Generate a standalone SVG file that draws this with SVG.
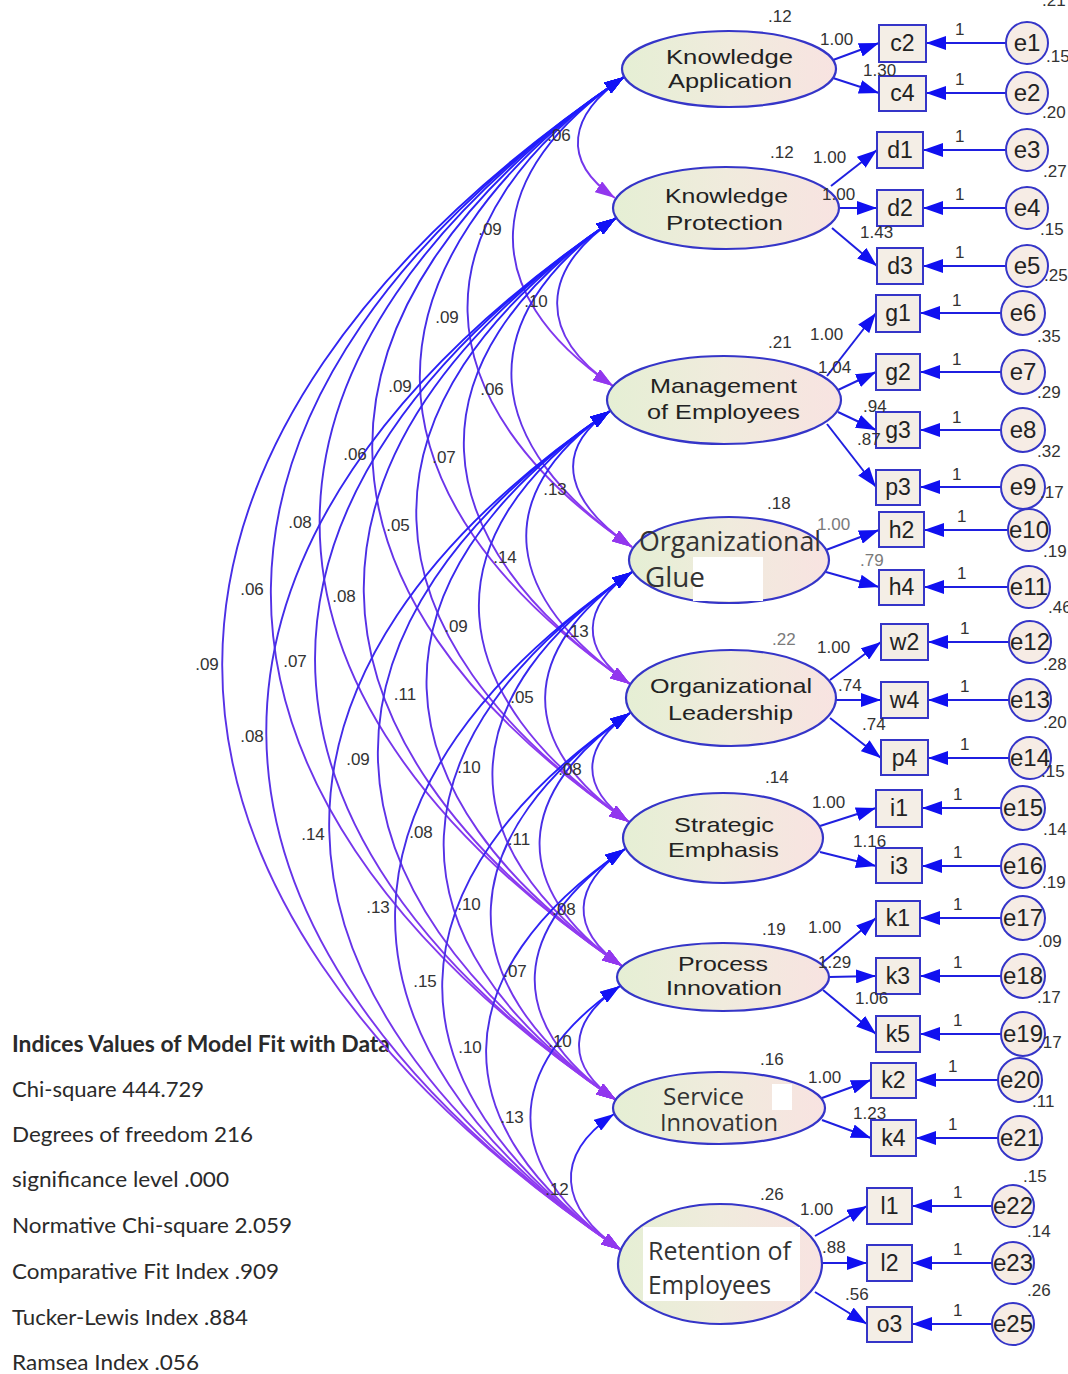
<svg xmlns="http://www.w3.org/2000/svg" width="1068" height="1374" viewBox="0 0 1068 1374">
<defs>
  <linearGradient id="latFill" x1="0" y1="0" x2="1" y2="0">
    <stop offset="0" stop-color="#e5efd4"/>
    <stop offset="0.5" stop-color="#f0ebdd"/>
    <stop offset="1" stop-color="#f8e3e1"/>
  </linearGradient>
  <linearGradient id="covStroke" x1="0" y1="0" x2="0" y2="1">
    <stop offset="0" stop-color="#1a1aff"/>
    <stop offset="0.45" stop-color="#4a2fe4"/>
    <stop offset="1" stop-color="#9a3cf2"/>
  </linearGradient>
  <marker id="headBlue" viewBox="0 0 20 13" refX="20" refY="6.5" markerWidth="20" markerHeight="13" markerUnits="userSpaceOnUse" orient="auto-start-reverse">
    <path d="M0,0 L20,6.5 L0,13 Z" fill="#1212f5"/>
  </marker>
  <marker id="headPurple" viewBox="0 0 20 13" refX="20" refY="6.5" markerWidth="20" markerHeight="13" markerUnits="userSpaceOnUse" orient="auto">
    <path d="M0,0 L20,6.5 L0,13 Z" fill="#9237ee"/>
  </marker>
  <marker id="head" viewBox="0 0 20 14" refX="20" refY="7" markerWidth="20" markerHeight="14" markerUnits="userSpaceOnUse" orient="auto">
    <path d="M0,0 L20,7 L0,14 Z" fill="#1010f0"/>
  </marker>
</defs>
<style>
  .lat { fill: url(#latFill); stroke: #3535c8; stroke-width: 2.2; }
  .obs { fill: #f4eee6; stroke: #3535c8; stroke-width: 2; }
  .err { fill: #f6ece5; stroke: #3535c8; stroke-width: 2; }
  .cov { fill: none; stroke: url(#covStroke); stroke-width: 1.9; marker-start: url(#headBlue); marker-end: url(#headPurple); }
  .path { fill: none; stroke: #1f1fe0; stroke-width: 2; marker-end: url(#head); }
  .lt { font-family: "Liberation Sans", Arial, sans-serif; font-size: 21px; fill: #222; }
  .lt2 { font-family: "Open Sans", "Liberation Sans", sans-serif; fill: #333; }
  .vt { font-family: "Liberation Sans", Arial, sans-serif; font-size: 23px; fill: #222; text-anchor: middle; }
  .et { font-family: "Liberation Sans", Arial, sans-serif; font-size: 24px; fill: #222; text-anchor: middle; }
  .num { font-family: "Liberation Sans", Arial, sans-serif; font-size: 17px; fill: #333; }
  .cn { font-family: "Liberation Sans", Arial, sans-serif; font-size: 17px; fill: #333; text-anchor: middle; }
  .faint { fill: #7a7a7a; }
  .fit { font-family: Lato, "Open Sans", sans-serif; font-size: 22px; fill: #2a2a2a; }
</style>
<rect width="1068" height="1374" fill="#ffffff"/>

<!-- fit statistics block -->
<g id="fit-indices">
  <text class="fit" x="12" y="1052" font-weight="bold" textLength="378" lengthAdjust="spacingAndGlyphs">Indices Values of Model Fit with Data</text>
  <text class="fit" x="12" y="1097" textLength="192" lengthAdjust="spacingAndGlyphs">Chi-square 444.729</text>
  <text class="fit" x="12" y="1142" textLength="241" lengthAdjust="spacingAndGlyphs">Degrees of freedom 216</text>
  <text class="fit" x="12" y="1187" textLength="217" lengthAdjust="spacingAndGlyphs">significance level .000</text>
  <text class="fit" x="12" y="1233" textLength="280" lengthAdjust="spacingAndGlyphs">Normative Chi-square 2.059</text>
  <text class="fit" x="12" y="1279" textLength="267" lengthAdjust="spacingAndGlyphs">Comparative Fit Index .909</text>
  <text class="fit" x="12" y="1325" textLength="236" lengthAdjust="spacingAndGlyphs">Tucker-Lewis Index .884</text>
  <text class="fit" x="12" y="1370" textLength="187" lengthAdjust="spacingAndGlyphs">Ramsea Index .056</text>
</g>

<g id="connectors">
  <!-- covariances between latent factors -->
  <path class="cov" d="M624,77 C568.9,114.5 559.9,160.5 615,198"/>
  <path class="cov" d="M624,77 C483.4,172.8 472.4,290.2 613,386"/>
  <path class="cov" d="M624,77 C410.1,222.7 418.1,401.3 632,547"/>
  <path class="cov" d="M624,77 C347.8,265.2 353.8,495.8 630,684"/>
  <path class="cov" d="M624,77 C285,308 290,591 629,822"/>
  <path class="cov" d="M624,77 C219.5,352.6 217.5,690.4 622,966"/>
  <path class="cov" d="M624,77 C158.5,394.1 150.5,782.9 616,1100"/>
  <path class="cov" d="M624,77 C90.3,440.6 87.3,886.4 621,1250"/>

  <path class="cov" d="M616,218 C539.6,270.1 536.6,333.9 613,386"/>
  <path class="cov" d="M616,218 C466.3,320 482.3,445 632,547"/>
  <path class="cov" d="M616,218 C404,362.5 418,539.5 630,684"/>
  <path class="cov" d="M616,218 C341.2,405.2 354.2,634.8 629,822"/>
  <path class="cov" d="M616,218 C275.7,449.9 281.7,734.1 622,966"/>
  <path class="cov" d="M616,218 C214.7,491.4 214.7,826.6 616,1100"/>
  <path class="cov" d="M616,218 C146.4,537.9 151.4,930.1 621,1250"/>

  <path class="cov" d="M610,411 C548.1,453.2 570.1,504.8 632,547"/>
  <path class="cov" d="M610,411 C485.8,495.6 505.8,599.4 630,684"/>
  <path class="cov" d="M610,411 C423,538.4 442,694.6 629,822"/>
  <path class="cov" d="M610,411 C357.5,583 369.5,794 622,966"/>
  <path class="cov" d="M610,411 C296.5,624.6 302.5,886.4 616,1100"/>
  <path class="cov" d="M610,411 C228.3,671.1 239.3,989.9 621,1250"/>

  <path class="cov" d="M632,572 C581,606.7 579,649.3 630,684"/>
  <path class="cov" d="M632,572 C518.2,649.5 515.2,744.5 629,822"/>
  <path class="cov" d="M632,572 C452.7,694.1 442.7,843.9 622,966"/>
  <path class="cov" d="M632,572 C391.8,735.7 375.8,936.3 616,1100"/>
  <path class="cov" d="M632,572 C323.5,782.2 312.5,1039.8 621,1250"/>

  <path class="cov" d="M630,713 C580.4,746.8 579.4,788.2 629,822"/>
  <path class="cov" d="M630,713 C514.9,791.4 506.9,887.6 622,966"/>
  <path class="cov" d="M630,713 C453.9,833 439.9,980 616,1100"/>
  <path class="cov" d="M630,713 C385.7,879.5 376.7,1083.5 621,1250"/>

  <path class="cov" d="M625,849 C571.8,885.3 568.8,929.7 622,966"/>
  <path class="cov" d="M625,849 C510.8,926.8 501.8,1022.2 616,1100"/>
  <path class="cov" d="M625,849 C442.5,973.3 438.5,1125.7 621,1250"/>

  <path class="cov" d="M620,986 C568.1,1021.3 564.1,1064.7 616,1100"/>
  <path class="cov" d="M620,986 C499.9,1067.8 500.9,1168.2 621,1250"/>

  <path class="cov" d="M614,1114 C552.1,1156.2 559.1,1207.8 621,1250"/>

  <!-- factor loadings -->
  <line class="path" x1="833" y1="60" x2="879" y2="43"/>
  <line class="path" x1="833" y1="78" x2="879" y2="93"/>
  <line class="path" x1="831" y1="186" x2="877" y2="150"/>
  <line class="path" x1="839" y1="208" x2="877" y2="208"/>
  <line class="path" x1="832" y1="228" x2="877" y2="266"/>
  <line class="path" x1="827" y1="376" x2="876" y2="313"/>
  <line class="path" x1="838" y1="390" x2="876" y2="372"/>
  <line class="path" x1="838" y1="412" x2="876" y2="430"/>
  <line class="path" x1="827" y1="424" x2="876" y2="487"/>
  <line class="path" x1="826" y1="550" x2="879" y2="530"/>
  <line class="path" x1="826" y1="572" x2="879" y2="587"/>
  <line class="path" x1="830" y1="680" x2="881" y2="642"/>
  <line class="path" x1="836" y1="700" x2="881" y2="700"/>
  <line class="path" x1="830" y1="718" x2="881" y2="758"/>
  <line class="path" x1="820" y1="826" x2="876" y2="808"/>
  <line class="path" x1="820" y1="852" x2="876" y2="866"/>
  <line class="path" x1="822" y1="963" x2="876" y2="918"/>
  <line class="path" x1="829" y1="977" x2="876" y2="976"/>
  <line class="path" x1="823" y1="990" x2="876" y2="1034"/>
  <line class="path" x1="822" y1="1098" x2="871" y2="1080"/>
  <line class="path" x1="822" y1="1120" x2="871" y2="1138"/>
  <line class="path" x1="815" y1="1236" x2="867" y2="1206"/>
  <line class="path" x1="822" y1="1263" x2="867" y2="1263"/>
  <line class="path" x1="815" y1="1292" x2="867" y2="1324"/>

  <!-- error terms to indicators -->
  <line class="path" x1="1006" y1="43" x2="926" y2="43"/>
  <line class="path" x1="1006" y1="93" x2="926" y2="93"/>
  <line class="path" x1="1006" y1="150" x2="923" y2="150"/>
  <line class="path" x1="1006" y1="208" x2="923" y2="208"/>
  <line class="path" x1="1006" y1="266" x2="923" y2="266"/>
  <line class="path" x1="1001" y1="313" x2="920" y2="313"/>
  <line class="path" x1="1001" y1="372" x2="920" y2="372"/>
  <line class="path" x1="1001" y1="430" x2="920" y2="430"/>
  <line class="path" x1="1001" y1="487" x2="920" y2="487"/>
  <line class="path" x1="1008" y1="530" x2="924" y2="530"/>
  <line class="path" x1="1008" y1="587" x2="924" y2="587"/>
  <line class="path" x1="1009" y1="642" x2="928" y2="642"/>
  <line class="path" x1="1009" y1="700" x2="928" y2="700"/>
  <line class="path" x1="1009" y1="758" x2="928" y2="758"/>
  <line class="path" x1="1001" y1="808" x2="922" y2="808"/>
  <line class="path" x1="1001" y1="866" x2="922" y2="866"/>
  <line class="path" x1="1001" y1="918" x2="920" y2="918"/>
  <line class="path" x1="1001" y1="976" x2="920" y2="976"/>
  <line class="path" x1="1001" y1="1034" x2="920" y2="1034"/>
  <line class="path" x1="998" y1="1080" x2="916" y2="1080"/>
  <line class="path" x1="998" y1="1138" x2="916" y2="1138"/>
  <line class="path" x1="992" y1="1206" x2="912" y2="1206"/>
  <line class="path" x1="992" y1="1263" x2="912" y2="1263"/>
  <line class="path" x1="992" y1="1324" x2="912" y2="1324"/>
</g>

<!-- latent factors -->
<g id="knowledge-application">
  <ellipse class="lat" cx="729" cy="69" rx="107" ry="38"/>
  <text class="lt" x="666" y="64" textLength="127" lengthAdjust="spacingAndGlyphs">Knowledge</text>
  <text class="lt" x="668" y="88" textLength="124" lengthAdjust="spacingAndGlyphs">Application</text>
</g>
<g id="knowledge-protection">
  <ellipse class="lat" cx="726" cy="208" rx="113" ry="41"/>
  <text class="lt" x="665" y="203" textLength="123" lengthAdjust="spacingAndGlyphs">Knowledge</text>
  <text class="lt" x="666" y="230" textLength="117" lengthAdjust="spacingAndGlyphs">Protection</text>
</g>
<g id="management-of-employees">
  <ellipse class="lat" cx="724" cy="400" rx="117" ry="44"/>
  <text class="lt" x="650" y="393" textLength="147" lengthAdjust="spacingAndGlyphs">Management</text>
  <text class="lt" x="647" y="419" textLength="153" lengthAdjust="spacingAndGlyphs">of Employees</text>
</g>
<g id="organizational-glue">
  <ellipse class="lat" cx="729" cy="560" rx="100" ry="43"/>
  <rect x="693" y="557" width="70" height="44" fill="#ffffff"/>
  <text class="lt2" x="639" y="551" font-size="28" fill="#555" textLength="182" lengthAdjust="spacingAndGlyphs">Organizational</text>
  <text class="lt2" x="645" y="587" font-size="28" fill="#555" textLength="60" lengthAdjust="spacingAndGlyphs">Glue</text>
</g>
<g id="organizational-leadership">
  <ellipse class="lat" cx="731" cy="698" rx="105" ry="48"/>
  <text class="lt" x="650" y="693" textLength="162" lengthAdjust="spacingAndGlyphs">Organizational</text>
  <text class="lt" x="668" y="720" textLength="125" lengthAdjust="spacingAndGlyphs">Leadership</text>
</g>
<g id="strategic-emphasis">
  <ellipse class="lat" cx="723" cy="838" rx="100" ry="45"/>
  <text class="lt" x="674" y="832" textLength="100" lengthAdjust="spacingAndGlyphs">Strategic</text>
  <text class="lt" x="668" y="857" textLength="111" lengthAdjust="spacingAndGlyphs">Emphasis</text>
</g>
<g id="process-innovation">
  <ellipse class="lat" cx="723" cy="977" rx="106" ry="34"/>
  <text class="lt" x="678" y="971" textLength="90" lengthAdjust="spacingAndGlyphs">Process</text>
  <text class="lt" x="666" y="995" textLength="116" lengthAdjust="spacingAndGlyphs">Innovation</text>
</g>
<g id="service-innovation">
  <ellipse class="lat" cx="719" cy="1108" rx="106" ry="36"/>
  <rect x="772" y="1084" width="20" height="26" fill="#ffffff"/>
  <text class="lt2" x="663" y="1105" font-size="24" textLength="81" lengthAdjust="spacingAndGlyphs">Service</text>
  <text class="lt2" x="660" y="1131" font-size="24" textLength="118" lengthAdjust="spacingAndGlyphs">Innovation</text>
</g>
<g id="retention-of-employees">
  <ellipse class="lat" cx="720" cy="1264" rx="102" ry="60"/>
  <rect x="643" y="1227" width="157" height="74" fill="#ffffff"/>
  <text class="lt2" x="648" y="1260" font-size="25" textLength="143" lengthAdjust="spacingAndGlyphs">Retention of</text>
  <text class="lt2" x="648" y="1294" font-size="25" textLength="123" lengthAdjust="spacingAndGlyphs">Employees</text>
</g>

<!-- observed indicators -->
<g id="c2"><rect class="obs" x="879" y="25" width="47" height="37"/><text class="vt" x="902.5" y="51">c2</text></g>
<g id="c4"><rect class="obs" x="879" y="76" width="47" height="35"/><text class="vt" x="902.5" y="101">c4</text></g>
<g id="d1"><rect class="obs" x="877" y="132" width="46" height="36"/><text class="vt" x="900" y="158">d1</text></g>
<g id="d2"><rect class="obs" x="877" y="190" width="46" height="36"/><text class="vt" x="900" y="216">d2</text></g>
<g id="d3"><rect class="obs" x="877" y="248" width="46" height="36"/><text class="vt" x="900" y="274">d3</text></g>
<g id="g1"><rect class="obs" x="876" y="295" width="44" height="37"/><text class="vt" x="898" y="321">g1</text></g>
<g id="g2"><rect class="obs" x="876" y="354" width="44" height="36"/><text class="vt" x="898" y="380">g2</text></g>
<g id="g3"><rect class="obs" x="876" y="412" width="44" height="36"/><text class="vt" x="898" y="438">g3</text></g>
<g id="p3"><rect class="obs" x="876" y="470" width="44" height="35"/><text class="vt" x="898" y="495">p3</text></g>
<g id="h2"><rect class="obs" x="879" y="512" width="45" height="35"/><text class="vt" x="901.5" y="538" fill="#444">h2</text></g>
<g id="h4"><rect class="obs" x="879" y="570" width="45" height="35"/><text class="vt" x="901.5" y="595" fill="#444">h4</text></g>
<g id="w2"><rect class="obs" x="881" y="624" width="47" height="36"/><text class="vt" x="904.5" y="650" fill="#444">w2</text></g>
<g id="w4"><rect class="obs" x="881" y="682" width="47" height="36"/><text class="vt" x="904.5" y="708">w4</text></g>
<g id="p4"><rect class="obs" x="881" y="740" width="47" height="35"/><text class="vt" x="904.5" y="766">p4</text></g>
<g id="i1"><rect class="obs" x="876" y="790" width="46" height="37"/><text class="vt" x="899" y="816">i1</text></g>
<g id="i3"><rect class="obs" x="876" y="848" width="46" height="35"/><text class="vt" x="899" y="874">i3</text></g>
<g id="k1"><rect class="obs" x="876" y="901" width="44" height="35"/><text class="vt" x="898" y="926">k1</text></g>
<g id="k3"><rect class="obs" x="876" y="958" width="44" height="36"/><text class="vt" x="898" y="984">k3</text></g>
<g id="k5"><rect class="obs" x="876" y="1016" width="44" height="36"/><text class="vt" x="898" y="1042">k5</text></g>
<g id="k2"><rect class="obs" x="871" y="1063" width="45" height="35"/><text class="vt" x="893.5" y="1088">k2</text></g>
<g id="k4"><rect class="obs" x="871" y="1120" width="45" height="36"/><text class="vt" x="893.5" y="1146">k4</text></g>
<g id="l1"><rect class="obs" x="867" y="1188" width="45" height="36"/><text class="vt" x="889.5" y="1214">l1</text></g>
<g id="l2"><rect class="obs" x="867" y="1245" width="45" height="36"/><text class="vt" x="889.5" y="1271">l2</text></g>
<g id="o3"><rect class="obs" x="867" y="1307" width="45" height="35"/><text class="vt" x="889.5" y="1332">o3</text></g>

<!-- error terms -->
<g id="e1"><circle class="err" cx="1027" cy="43" r="21"/><text class="et" x="1027" y="51">e1</text></g>
<g id="e2"><circle class="err" cx="1027" cy="93" r="21"/><text class="et" x="1027" y="101">e2</text></g>
<g id="e3"><circle class="err" cx="1027" cy="150" r="21"/><text class="et" x="1027" y="158">e3</text></g>
<g id="e4"><circle class="err" cx="1027" cy="208" r="21"/><text class="et" x="1027" y="216">e4</text></g>
<g id="e5"><circle class="err" cx="1027" cy="266" r="21"/><text class="et" x="1027" y="274">e5</text></g>
<g id="e6"><circle class="err" cx="1023" cy="313" r="22"/><text class="et" x="1023" y="321">e6</text></g>
<g id="e7"><circle class="err" cx="1023" cy="372" r="22"/><text class="et" x="1023" y="380">e7</text></g>
<g id="e8"><circle class="err" cx="1023" cy="430" r="22"/><text class="et" x="1023" y="438">e8</text></g>
<g id="e9"><circle class="err" cx="1023" cy="487" r="22"/><text class="et" x="1023" y="495">e9</text></g>
<g id="e10"><circle class="err" cx="1029" cy="530" r="21"/><text class="et" x="1029" y="538">e10</text></g>
<g id="e11"><circle class="err" cx="1029" cy="587" r="21"/><text class="et" x="1029" y="595">e11</text></g>
<g id="e12"><circle class="err" cx="1030" cy="642" r="21"/><text class="et" x="1030" y="650">e12</text></g>
<g id="e13"><circle class="err" cx="1030" cy="700" r="21"/><text class="et" x="1030" y="708">e13</text></g>
<g id="e14"><circle class="err" cx="1030" cy="758" r="21"/><text class="et" x="1030" y="766">e14</text></g>
<g id="e15"><circle class="err" cx="1023" cy="808" r="22"/><text class="et" x="1023" y="816">e15</text></g>
<g id="e16"><circle class="err" cx="1023" cy="866" r="22"/><text class="et" x="1023" y="874">e16</text></g>
<g id="e17"><circle class="err" cx="1023" cy="918" r="22"/><text class="et" x="1023" y="926">e17</text></g>
<g id="e18"><circle class="err" cx="1023" cy="976" r="22"/><text class="et" x="1023" y="984">e18</text></g>
<g id="e19"><circle class="err" cx="1023" cy="1034" r="22"/><text class="et" x="1023" y="1042">e19</text></g>
<g id="e20"><circle class="err" cx="1020" cy="1080" r="22"/><text class="et" x="1020" y="1088">e20</text></g>
<g id="e21"><circle class="err" cx="1020" cy="1138" r="22"/><text class="et" x="1020" y="1146">e21</text></g>
<g id="e22"><circle class="err" cx="1013" cy="1206" r="21"/><text class="et" x="1013" y="1214">e22</text></g>
<g id="e23"><circle class="err" cx="1013" cy="1263" r="21"/><text class="et" x="1013" y="1271">e23</text></g>
<g id="e25"><circle class="err" cx="1013" cy="1324" r="21"/><text class="et" x="1013" y="1332">e25</text></g>

<!-- estimates -->
<g id="estimates">
  <!-- covariances -->
  <text class="cn" x="559" y="141">.06</text>
  <text class="cn" x="490" y="235">.09</text>
  <text class="cn" x="536" y="307">.10</text>
  <text class="cn" x="447" y="323">.09</text>
  <text class="cn" x="400" y="392">.09</text>
  <text class="cn" x="492" y="395">.06</text>
  <text class="cn" x="355" y="460">.06</text>
  <text class="cn" x="444" y="463">.07</text>
  <text class="cn" x="555" y="495">.13</text>
  <text class="cn" x="300" y="528">.08</text>
  <text class="cn" x="398" y="531">.05</text>
  <text class="cn" x="505" y="563">.14</text>
  <text class="cn" x="252" y="595">.06</text>
  <text class="cn" x="344" y="602">.08</text>
  <text class="cn" x="456" y="632">.09</text>
  <text class="cn" x="577" y="637">.13</text>
  <text class="cn" x="207" y="670">.09</text>
  <text class="cn" x="295" y="667">.07</text>
  <text class="cn" x="405" y="700">.11</text>
  <text class="cn" x="522" y="703">.05</text>
  <text class="cn" x="252" y="742">.08</text>
  <text class="cn" x="358" y="765">.09</text>
  <text class="cn" x="469" y="773">.10</text>
  <text class="cn" x="570" y="775">.08</text>
  <text class="cn" x="313" y="840">.14</text>
  <text class="cn" x="421" y="838">.08</text>
  <text class="cn" x="519" y="845">.11</text>
  <text class="cn" x="378" y="913">.13</text>
  <text class="cn" x="469" y="910">.10</text>
  <text class="cn" x="564" y="915">.08</text>
  <text class="cn" x="425" y="987">.15</text>
  <text class="cn" x="515" y="977">.07</text>
  <text class="cn" x="470" y="1053">.10</text>
  <text class="cn" x="560" y="1047">.10</text>
  <text class="cn" x="512" y="1123">.13</text>
  <text class="cn" x="557" y="1195">.12</text>

  <!-- factor variances -->
  <text class="num" x="768" y="22">.12</text>
  <text class="num" x="770" y="158">.12</text>
  <text class="num" x="768" y="348">.21</text>
  <text class="num" x="767" y="509">.18</text>
  <text class="num faint" x="772" y="645">.22</text>
  <text class="num" x="765" y="783">.14</text>
  <text class="num" x="762" y="935">.19</text>
  <text class="num" x="760" y="1065">.16</text>
  <text class="num" x="760" y="1200">.26</text>

  <!-- loadings -->
  <text class="num" x="820" y="45">1.00</text>
  <text class="num" x="863" y="76">1.30</text>
  <text class="num" x="813" y="163">1.00</text>
  <text class="num" x="822" y="200">1.00</text>
  <text class="num" x="860" y="238">1.43</text>
  <text class="num" x="810" y="340">1.00</text>
  <text class="num" x="818" y="373">1.04</text>
  <text class="num" x="863" y="412">.94</text>
  <text class="num" x="857" y="445">.87</text>
  <text class="num faint" x="817" y="530">1.00</text>
  <text class="num faint" x="860" y="566">.79</text>
  <text class="num" x="817" y="653">1.00</text>
  <text class="num" x="838" y="691">.74</text>
  <text class="num" x="862" y="730">.74</text>
  <text class="num" x="812" y="808">1.00</text>
  <text class="num" x="853" y="847">1.16</text>
  <text class="num" x="808" y="933">1.00</text>
  <text class="num" x="818" y="968">1.29</text>
  <text class="num" x="855" y="1004">1.06</text>
  <text class="num" x="808" y="1083">1.00</text>
  <text class="num" x="853" y="1119">1.23</text>
  <text class="num" x="800" y="1215">1.00</text>
  <text class="num" x="822" y="1253">.88</text>
  <text class="num" x="845" y="1300">.56</text>

  <!-- fixed error paths -->
  <text class="num" x="955" y="35">1</text>
  <text class="num" x="955" y="85">1</text>
  <text class="num" x="955" y="142">1</text>
  <text class="num" x="955" y="200">1</text>
  <text class="num" x="955" y="258">1</text>
  <text class="num" x="952" y="306">1</text>
  <text class="num" x="952" y="365">1</text>
  <text class="num" x="952" y="423">1</text>
  <text class="num" x="952" y="480">1</text>
  <text class="num" x="957" y="522">1</text>
  <text class="num" x="957" y="579">1</text>
  <text class="num" x="960" y="634">1</text>
  <text class="num" x="960" y="692">1</text>
  <text class="num" x="960" y="750">1</text>
  <text class="num" x="953" y="800">1</text>
  <text class="num" x="953" y="858">1</text>
  <text class="num" x="953" y="910">1</text>
  <text class="num" x="953" y="968">1</text>
  <text class="num" x="953" y="1026">1</text>
  <text class="num" x="948" y="1072">1</text>
  <text class="num" x="948" y="1130">1</text>
  <text class="num" x="953" y="1198">1</text>
  <text class="num" x="953" y="1255">1</text>
  <text class="num" x="953" y="1316">1</text>

  <!-- error variances -->
  <text class="num" x="1042" y="6">.21</text>
  <text class="num" x="1046" y="62">.15</text>
  <text class="num" x="1042" y="118">.20</text>
  <text class="num" x="1043" y="177">.27</text>
  <text class="num" x="1040" y="235">.15</text>
  <text class="num" x="1044" y="281">.25</text>
  <text class="num" x="1037" y="342">.35</text>
  <text class="num" x="1037" y="398">.29</text>
  <text class="num" x="1037" y="457">.32</text>
  <text class="num" x="1040" y="498">.17</text>
  <text class="num" x="1043" y="557">.19</text>
  <text class="num" x="1048" y="613">.46</text>
  <text class="num" x="1043" y="670">.28</text>
  <text class="num" x="1043" y="728">.20</text>
  <text class="num" x="1041" y="777">.15</text>
  <text class="num" x="1043" y="835">.14</text>
  <text class="num" x="1042" y="888">.19</text>
  <text class="num" x="1038" y="947">.09</text>
  <text class="num" x="1037" y="1003">.17</text>
  <text class="num" x="1038" y="1048">.17</text>
  <text class="num" x="1032" y="1107">.11</text>
  <text class="num" x="1023" y="1182">.15</text>
  <text class="num" x="1027" y="1237">.14</text>
  <text class="num" x="1027" y="1296">.26</text>
</g>
</svg>
